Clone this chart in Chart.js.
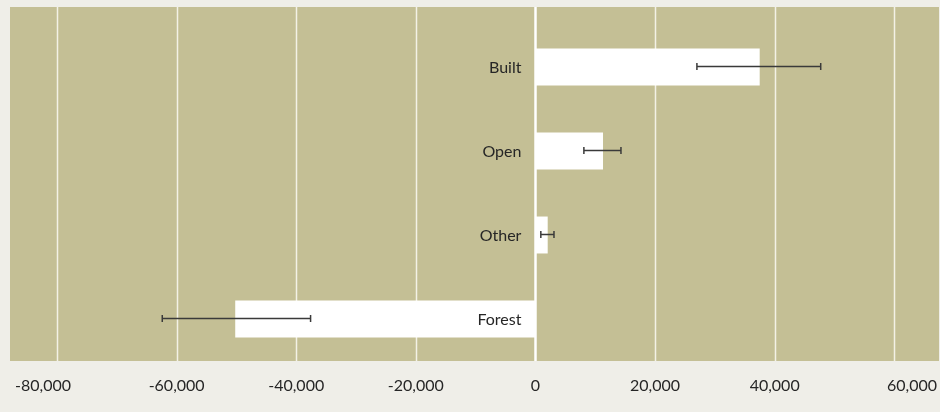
<!DOCTYPE html>
<html>
<head>
<meta charset="utf-8">
<script src="https://cdn.jsdelivr.net/npm/chart.js@4"></script>
<style>
  html, body { margin: 0; padding: 0; background: #efeee8; }
  #wrap { width: 940px; height: 412px; position: relative; }
</style>
</head>
<body>
<div id="wrap"><canvas id="landChart"></canvas></div>
<script>
// land cover change, hectares
const categories = ['Built', 'Open', 'Other', 'Forest'];
const changeValues = [37500, 11300, 2050, -50200];
const errorLow = [27000, 8100, 900, -62400];
const errorHigh = [47700, 14300, 3100, -37600];
const tickValues = [-80000, -60000, -40000, -20000, 0, 20000, 40000, 60000];

const plotBg = '#c4bf95';
const textColor = '#262626';
const fontFamily = 'Lato, "Noto Sans", sans-serif';

const fmt = v => v.toLocaleString('en-US');

// plot background + vertical gridlines (extend a bit above the bars' area)
const backdrop = {
  id: 'backdrop',
  beforeDatasetsDraw(chart) {
    const { ctx, chartArea, scales } = chart;
    const top = chartArea.top - 18;
    ctx.save();
    ctx.fillStyle = plotBg;
    ctx.fillRect(chartArea.left, top, chartArea.right - chartArea.left, chartArea.bottom - top);
    tickValues.forEach(v => {
      const x = Math.round(scales.x.getPixelForValue(v));
      ctx.beginPath();
      ctx.strokeStyle = v === 0 ? '#ffffff' : '#f3f1e6';
      ctx.lineWidth = v === 0 ? 2.5 : 1.5;
      ctx.moveTo(x + 0.5, top);
      ctx.lineTo(x + 0.5, chartArea.bottom);
      ctx.stroke();
    });
    ctx.restore();
  }
};

// error bars, category names and axis labels
const overlay = {
  id: 'overlay',
  afterDatasetsDraw(chart) {
    const { ctx, chartArea, scales } = chart;
    const xs = scales.x, ys = scales.y;
    ctx.save();

    // Error bars
    ctx.strokeStyle = '#3a3a3a';
    ctx.lineWidth = 1.5;
    categories.forEach((c, i) => {
      const y = Math.round(ys.getPixelForValue(i)) - 0.5;
      const x1 = xs.getPixelForValue(errorLow[i]);
      const x2 = xs.getPixelForValue(errorHigh[i]);
      ctx.beginPath();
      ctx.moveTo(x1, y); ctx.lineTo(x2, y);
      ctx.moveTo(x1, y - 3.5); ctx.lineTo(x1, y + 3.5);
      ctx.moveTo(x2, y - 3.5); ctx.lineTo(x2, y + 3.5);
      ctx.stroke();
    });

    // Category names, right aligned left of zero
    ctx.fillStyle = textColor;
    ctx.font = '16px ' + fontFamily;
    ctx.textAlign = 'right';
    ctx.textBaseline = 'middle';
    const zeroX = xs.getPixelForValue(0);
    categories.forEach((c, i) => {
      ctx.fillText(c, zeroX - 14, ys.getPixelForValue(i) + 1);
    });

    // x tick labels (outer ones pushed inside the plot edges)
    const ty = chartArea.bottom + 25;
    tickValues.forEach((v, i) => {
      let x = xs.getPixelForValue(v);
      ctx.textAlign = 'center';
      if (i === 0) { ctx.textAlign = 'left'; x = chartArea.left + 5; }
      if (i === tickValues.length - 1) { ctx.textAlign = 'right'; x = chartArea.right - 2; }
      ctx.fillText(fmt(v), x, ty);
    });
    ctx.restore();
  }
};

new Chart(document.getElementById('landChart'), {
  type: 'bar',
  data: {
    labels: categories,
    datasets: [{
      data: changeValues,
      backgroundColor: '#ffffff',
      borderWidth: 0,
      barPercentage: 0.44,
      categoryPercentage: 1
    }]
  },
  options: {
    indexAxis: 'y',
    responsive: true,
    maintainAspectRatio: false,
    animation: false,
    layout: { padding: { left: 10, right: 1, top: 25, bottom: 51 } },
    plugins: {
      legend: { display: false },
      tooltip: { enabled: false }
    },
    scales: {
      x: {
        display: false,
        min: -87860,
        max: 67480
      },
      y: {
        display: false
      }
    }
  },
  plugins: [backdrop, overlay]
});
</script>
</body>
</html>
